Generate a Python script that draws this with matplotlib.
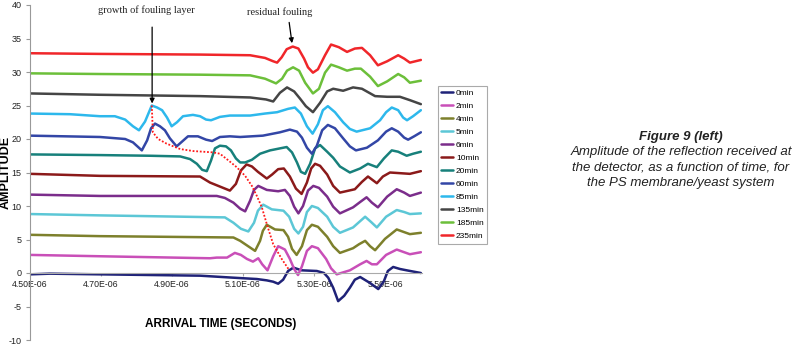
import numpy as np
import matplotlib.pyplot as plt
from matplotlib.ticker import FuncFormatter

plt.rcParams['font.family'] = ['Liberation Sans Narrow', 'Liberation Sans', 'DejaVu Sans']
plt.rcParams['axes.unicode_minus'] = False

# arrival time in microseconds, amplitude (curves are offset by ~3 units each)
labels = ['0min', '2min', '4min', '5min', '6min', '10min', '20min',
          '60min', '85min', '135min', '185min', '235min']

t_0 = [4.500, 4.556, 4.697, 4.979, 5.073, 5.139, 5.167, 5.185, 5.199, 5.213, 5.227, 5.242,
       5.265, 5.308, 5.328, 5.340, 5.354, 5.368, 5.385, 5.401, 5.415, 5.430, 5.458, 5.481,
       5.497, 5.508, 5.523, 5.542, 5.561, 5.601]
a_0 = [-0.2, -0.1, -0.2, -0.4, -0.7, -0.9, -1.1, -1.3, -1.6, -1.0, 0.3, 0.8,
       0.4, 0.3, 0.0, -0.7, -2.2, -4.2, -3.4, -2.2, -1.0, -0.6, -1.5, -2.4,
       -1.2, 0.3, 0.9, 0.6, 0.4, 0.0]

t_2 = [4.500, 4.697, 5.007, 5.026, 5.055, 5.077, 5.094, 5.111, 5.128, 5.143, 5.154, 5.169,
       5.185, 5.199, 5.218, 5.232, 5.244, 5.255, 5.266, 5.280, 5.294, 5.311, 5.334, 5.348,
       5.364, 5.401, 5.430, 5.448, 5.463, 5.477, 5.503, 5.533, 5.554, 5.570, 5.601]
a_2 = [2.7, 2.5, 2.2, 2.3, 2.3, 3.0, 2.7, 2.1, 1.7, 2.2, 1.3, 0.4,
       2.5, 4.0, 3.5, 2.1, 0.6, -0.3, 1.0, 3.3, 4.0, 3.7, 2.1, 0.7,
       -0.2, 0.4, 1.3, 1.8, 1.3, 1.3, 2.7, 3.5, 3.1, 2.8, 3.1]

t_4 = [4.500, 4.697, 5.073, 5.092, 5.106, 5.134, 5.148, 5.156, 5.167, 5.190, 5.214, 5.227,
       5.238, 5.251, 5.266, 5.280, 5.294, 5.311, 5.337, 5.354, 5.373, 5.410, 5.427, 5.444,
       5.458, 5.472, 5.500, 5.533, 5.554, 5.570, 5.601]
a_4 = [5.7, 5.5, 5.3, 4.8, 4.3, 3.3, 4.8, 6.3, 7.2, 6.5, 6.4, 5.4,
       3.6, 2.7, 4.0, 6.4, 7.2, 6.9, 5.4, 4.0, 3.0, 3.7, 4.3, 4.8,
       4.0, 3.4, 5.1, 6.5, 6.1, 5.8, 6.0]

t_5 = [4.500, 4.697, 5.049, 5.073, 5.094, 5.115, 5.131, 5.142, 5.157, 5.181, 5.214, 5.230,
       5.244, 5.256, 5.269, 5.280, 5.294, 5.311, 5.337, 5.354, 5.373, 5.410, 5.427, 5.444,
       5.461, 5.477, 5.503, 5.533, 5.554, 5.570, 5.601]
a_5 = [8.8, 8.6, 8.3, 7.5, 6.6, 6.2, 7.5, 9.3, 10.2, 9.5, 9.3, 8.4,
       6.6, 5.9, 6.9, 9.1, 10.0, 9.7, 8.4, 6.9, 6.0, 6.8, 7.6, 8.4,
       7.6, 6.8, 8.4, 9.4, 9.1, 8.8, 8.9]

t_6 = [4.500, 4.697, 5.026, 5.049, 5.073, 5.092, 5.106, 5.120, 5.131, 5.143, 5.167, 5.199,
       5.218, 5.232, 5.244, 5.256, 5.269, 5.283, 5.298, 5.314, 5.337, 5.354, 5.373, 5.410,
       5.430, 5.448, 5.463, 5.480, 5.506, 5.533, 5.554, 5.570, 5.601]
a_6 = [11.7, 11.5, 11.5, 11.2, 10.5, 9.6, 9.2, 10.8, 12.4, 13.0, 12.4, 12.2,
       12.4, 11.5, 9.9, 8.9, 10.0, 12.3, 13.0, 12.7, 11.4, 9.9, 8.9, 9.8,
       10.6, 11.3, 10.5, 9.8, 11.4, 12.5, 12.0, 11.5, 12.0]

t_10 = [4.500, 4.697, 4.979, 5.007, 5.035, 5.063, 5.080, 5.094, 5.110, 5.125, 5.142, 5.167,
        5.182, 5.199, 5.215, 5.232, 5.249, 5.265, 5.280, 5.292, 5.303, 5.317, 5.337, 5.354,
        5.373, 5.415, 5.435, 5.452, 5.477, 5.494, 5.514, 5.542, 5.570, 5.601]
a_10 = [14.8, 14.5, 14.4, 13.5, 12.9, 12.3, 13.3, 15.3, 16.2, 15.9, 15.1, 14.1,
        14.7, 15.5, 15.6, 14.4, 12.6, 11.8, 13.5, 15.6, 16.3, 16.0, 14.7, 13.0,
        12.0, 12.5, 13.6, 14.4, 13.4, 14.4, 15.0, 14.9, 14.8, 15.2]

t_20 = [4.500, 4.697, 4.838, 4.923, 4.951, 4.970, 4.985, 4.998, 5.010, 5.021, 5.035, 5.052,
        5.066, 5.080, 5.092, 5.106, 5.125, 5.148, 5.176, 5.204, 5.223, 5.238, 5.252, 5.263,
        5.275, 5.289, 5.303, 5.317, 5.337, 5.354, 5.373, 5.401, 5.430, 5.452, 5.477, 5.497,
        5.519, 5.537, 5.561, 5.579, 5.601]
a_20 = [17.7, 17.6, 17.5, 17.4, 17.0, 16.3, 15.4, 15.2, 16.8, 18.6, 19.0, 18.9,
        18.3, 17.1, 16.5, 16.5, 16.9, 17.8, 18.3, 18.6, 18.8, 18.0, 16.5, 15.1,
        14.8, 16.3, 18.6, 19.1, 18.1, 17.2, 15.9, 15.0, 15.6, 16.3, 15.8, 17.1,
        18.3, 18.1, 17.5, 17.8, 18.1]

t_60 = [4.500, 4.697, 4.768, 4.790, 4.815, 4.830, 4.841, 4.852, 4.866, 4.880, 4.894, 4.913,
        4.928, 4.945, 4.973, 4.996, 5.013, 5.035, 5.063, 5.092, 5.156, 5.204, 5.232, 5.252,
        5.266, 5.280, 5.294, 5.308, 5.323, 5.339, 5.359, 5.382, 5.401, 5.418, 5.449, 5.480,
        5.503, 5.519, 5.537, 5.554, 5.565, 5.582, 5.601]
a_60 = [20.5, 20.3, 20.0, 19.5, 18.3, 19.8, 21.6, 22.3, 21.9, 21.3, 20.1, 18.9,
        19.6, 20.4, 20.4, 19.9, 19.7, 20.3, 20.4, 20.3, 20.5, 21.0, 21.4, 21.1,
        20.2, 18.7, 17.8, 19.0, 21.3, 22.1, 21.6, 20.1, 18.9, 18.3, 18.7, 19.8,
        21.1, 21.6, 21.1, 20.2, 19.9, 20.4, 21.0]

t_85 = [4.500, 4.613, 4.697, 4.739, 4.768, 4.790, 4.807, 4.824, 4.843, 4.858, 4.872, 4.886,
        4.899, 4.914, 4.931, 4.959, 4.979, 4.996, 5.010, 5.035, 5.063, 5.120, 5.162, 5.196,
        5.227, 5.246, 5.263, 5.280, 5.296, 5.311, 5.325, 5.339, 5.359, 5.382, 5.401, 5.420,
        5.458, 5.486, 5.503, 5.519, 5.537, 5.551, 5.562, 5.579, 5.601]
a_85 = [23.8, 23.7, 23.4, 23.4, 22.9, 21.9, 21.3, 22.6, 25.0, 24.7, 24.3, 23.2,
        21.9, 22.5, 23.4, 23.6, 23.4, 22.9, 22.8, 23.3, 23.5, 23.5, 23.8, 24.0,
        24.5, 24.7, 23.8, 21.9, 20.8, 22.2, 24.3, 24.9, 24.0, 22.5, 21.5, 21.1,
        21.6, 22.8, 24.0, 24.7, 24.3, 23.2, 22.8, 23.4, 24.3]

t_135 = [4.500, 4.697, 4.979, 5.120, 5.165, 5.185, 5.204, 5.224, 5.244, 5.261, 5.277, 5.297,
         5.317, 5.337, 5.354, 5.382, 5.410, 5.435, 5.472, 5.506, 5.542, 5.570, 5.601]
a_135 = [26.8, 26.6, 26.4, 26.2, 25.9, 25.6, 26.9, 27.7, 27.1, 26.0, 24.9, 24.0,
         25.4, 27.1, 27.5, 27.2, 27.7, 27.5, 26.4, 26.3, 26.3, 25.8, 25.2]

t_185 = [4.500, 4.697, 4.979, 5.120, 5.162, 5.193, 5.210, 5.224, 5.241, 5.258, 5.275, 5.297,
         5.314, 5.331, 5.348, 5.370, 5.393, 5.415, 5.432, 5.458, 5.480, 5.506, 5.537, 5.554,
         5.570, 5.601]
a_185 = [29.8, 29.7, 29.6, 29.5, 29.0, 28.3, 29.0, 30.2, 30.7, 30.2, 28.4, 26.8,
         27.5, 29.9, 31.1, 30.7, 30.2, 30.5, 30.5, 29.3, 27.9, 28.6, 29.7, 29.2,
         28.4, 28.7]

t_235 = [4.500, 4.697, 4.979, 5.120, 5.162, 5.185, 5.196, 5.209, 5.223, 5.240, 5.256, 5.272,
         5.283, 5.297, 5.311, 5.331, 5.348, 5.370, 5.393, 5.415, 5.435, 5.458, 5.480, 5.506,
         5.537, 5.554, 5.570, 5.601]
a_235 = [32.8, 32.7, 32.6, 32.5, 32.1, 31.6, 31.4, 32.2, 33.4, 33.8, 33.5, 32.0,
         30.7, 29.9, 30.4, 32.5, 34.1, 33.7, 33.0, 33.5, 33.6, 32.5, 31.0, 31.6,
         32.5, 32.0, 31.4, 31.8]

# red dotted line following the fouling layer echo
t_front = [4.843, 4.846, 4.861, 4.885, 4.923, 4.960, 5.016, 5.035, 5.059, 5.082, 5.106,
           5.125, 5.139, 5.153, 5.167, 5.185, 5.209, 5.228]
a_front = [25.0, 21.0, 20.0, 19.3, 18.5, 18.2, 18.0, 17.8, 16.8, 15.8, 14.5,
           13.0, 11.5, 9.8, 7.3, 4.3, 2.1, 0.6]

times = [t_0, t_2, t_4, t_5, t_6, t_10, t_20, t_60, t_85, t_135, t_185, t_235]
amps = [a_0, a_2, a_4, a_5, a_6, a_10, a_20, a_60, a_85, a_135, a_185, a_235]
colors = ['#1f2278', '#c94fb8', '#7d802c', '#5cc7d6', '#7b2d8b', '#8b1a1a',
          '#17807b', '#3346a6', '#2db8ec', '#454545', '#6cbf3a', '#f0262a']

fig = plt.figure(figsize=(7.96, 3.5), dpi=100)
ax = fig.add_axes([30 / 796, 10 / 350, 392.3 / 796, 335 / 350])

for lab, t, a, c in zip(labels, times, amps, colors):
    ax.plot(np.array(t) * 1e-6, a, color=c, lw=1.8, label=lab,
            solid_joinstyle='round', solid_capstyle='round')

ax.plot(np.array(t_front) * 1e-6, a_front, color='#ff1a1a', lw=1.3, ls=(0, (1, 1)))

ax.set_xlim(4.5e-6, 5.605e-6)
ax.set_ylim(-10, 40)
ax.set_yticks(range(-10, 41, 5))
ax.set_xticks(np.arange(4.5, 5.51, 0.2) * 1e-6)
ax.xaxis.set_major_formatter(FuncFormatter(lambda v, p: '%.2E' % v))

for s in ['top', 'right']:
    ax.spines[s].set_visible(False)
ax.spines['bottom'].set_position(('data', 0))
ax.spines['bottom'].set_color('#aaaaaa')
ax.spines['left'].set_color('#999999')
ax.tick_params(axis='y', length=3, color='#999999', labelsize=6.5, pad=3, labelcolor='#222222')
ax.tick_params(axis='x', length=2, color='#aaaaaa', labelsize=6.3, pad=3, labelcolor='#222222')

ax.set_xlabel('ARRIVAL TIME (SECONDS)', fontsize=8.5, fontweight='bold', va='center')
ax.xaxis.set_label_coords(0.487, 0.048)
ax.set_ylabel('AMPLITUDE', fontsize=9, fontweight='bold', va='center')
ax.yaxis.set_label_coords(-0.063, 0.5)

# annotations
ax.text(4.828e-6, 39.2, 'growth of fouling layer', ha='center', va='center',
        family='Liberation Serif', fontsize=7.5, color='#222222')
ax.annotate('', xy=(4.844e-6, 25.3), xytext=(4.844e-6, 36.7),
            arrowprops=dict(arrowstyle='-|>', color='black', lw=0.9, mutation_scale=7,
                            shrinkA=0, shrinkB=0))
ax.text(5.204e-6, 38.9, 'residual fouling', ha='center', va='center',
        family='Liberation Serif', fontsize=7.5, color='#222222')
ax.annotate('', xy=(5.238e-6, 34.3), xytext=(5.230e-6, 37.4),
            arrowprops=dict(arrowstyle='-|>', color='black', lw=0.9, mutation_scale=7,
                            shrinkA=0, shrinkB=0))

leg = ax.legend(loc='upper left', bbox_to_anchor=(438 / 796, 1 - 86 / 350),
                bbox_transform=fig.transFigure, fontsize=6, fancybox=False,
                edgecolor='#aaaaaa', framealpha=1, borderpad=0.4, labelspacing=0.62,
                handlelength=1.45, handletextpad=0.3, borderaxespad=0)
leg.get_frame().set_linewidth(0.8)

cap = ['Amplitude of the reflection received at',
       'the detector, as a function of time, for',
       'the PS membrane/yeast system']
fig.text(681 / 796, 1 - 137.3 / 350, 'Figure 9 (left)', ha='center', va='center',
         family='Liberation Sans', fontsize=9.5, fontweight='bold', fontstyle='italic',
         color='#222222')
for i, line in enumerate(cap):
    fig.text(681 / 796, 1 - (152.5 + 15.5 * i) / 350, line, ha='center', va='center',
             family='Liberation Sans', fontsize=9.5, fontstyle='italic', color='#222222')

fig.savefig('out.png', dpi=100)
